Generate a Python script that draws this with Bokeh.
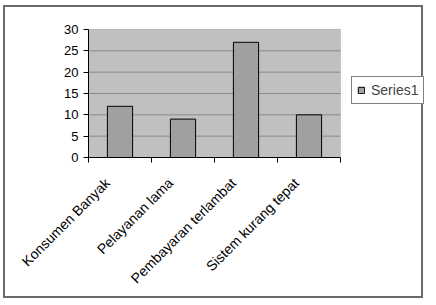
from math import pi
from bokeh.plotting import figure
from bokeh.models import (Range1d, FixedTicker, Legend, LegendItem, ColumnDataSource,
                          BoxAnnotation)
from bokeh.embed import file_html
from bokeh.resources import INLINE

categories = ["Konsumen Banyak", "Pelayanan lama", "Pembayaran terlambat", "Sistem kurang tepat"]
series_name = "Series1"
values = [12, 9, 27, 10]
y_ticks = [0, 5, 10, 15, 20, 25, 30]

FONT = "Liberation Sans"
N = len(categories)

x_pos = [i + 0.5 for i in range(N)]
label_pos = [x - 0.2 for x in x_pos]
src = ColumnDataSource(dict(x=x_pos, top=values, cat=categories))
grid_src = ColumnDataSource(dict(y=y_ticks[1:]))

W, H = 420, 293
ML, MR, MT, MB = 83, 0, 22, 143
area_px = 252  # width of the grey plotting area
frame_w = W - ML - MR
x_end = N * frame_w / area_px

p = figure(width=W, height=H, output_backend="svg", toolbar_location=None,
           x_range=Range1d(0, x_end), y_range=Range1d(0, 30),
           min_border_left=ML, min_border_right=MR, min_border_top=MT, min_border_bottom=MB)
p.margin = (5, 0, 0, 3)
p.styles = {"border": "2px solid #6a6a6a"}

p.background_fill_color = "white"
p.border_fill_color = "white"
p.outline_line_color = None

area = BoxAnnotation(left=0, right=N, bottom=0, top=30, fill_color="#C0C0C0", fill_alpha=1,
                     line_color="#909090", line_width=1, level="image")
p.add_layout(area)

# horizontal gridlines limited to the plotting area
p.segment(x0=0, x1=N, y0="y", y1="y", source=grid_src, line_color="#8A8A8A", line_width=1)

r = p.vbar(x="x", top="top", width=0.4, source=src, fill_color="#A0A0A0",
           line_color="black", line_width=1)

# axes
p.yaxis.ticker = FixedTicker(ticks=y_ticks)
p.yaxis.axis_line_color = "black"
p.yaxis.major_tick_line_color = "black"
p.yaxis.major_tick_in = 0
p.yaxis.major_tick_out = 5
p.yaxis.minor_tick_line_color = None
p.yaxis.major_label_text_font = FONT
p.yaxis.major_label_text_font_size = "13px"
p.yaxis.major_label_text_color = "black"
p.yaxis.major_label_standoff = 5

p.xaxis.bounds = (0, N)
p.xaxis.ticker = FixedTicker(ticks=label_pos, minor_ticks=list(range(N + 1)))
p.xaxis.major_label_overrides = {x: c for x, c in zip(label_pos, categories)}
p.xaxis.major_label_orientation = pi / 4
p.xaxis.axis_line_color = "black"
p.xaxis.major_tick_in = 0
p.xaxis.major_tick_out = 0
p.xaxis.minor_tick_line_color = "black"
p.xaxis.minor_tick_in = 0
p.xaxis.minor_tick_out = 5
p.xaxis.major_label_text_font = FONT
p.xaxis.major_label_text_font_size = "14px"
p.xaxis.major_label_text_color = "black"
p.xaxis.major_label_standoff = 18

p.xgrid.grid_line_color = None
p.ygrid.grid_line_color = None

legend = Legend(items=[LegendItem(label=series_name, renderers=[r])],
                location=(263, 53), orientation="vertical",
                border_line_color="black", border_line_width=1,
                background_fill_color="white", background_fill_alpha=1,
                label_text_font=FONT, label_text_font_size="14px",
                glyph_width=8, glyph_height=8, label_standoff=6,
                padding=5, spacing=0, margin=0, label_height=14)
p.add_layout(legend, "center")

open("out.html", "w").write(file_html(p, INLINE))
